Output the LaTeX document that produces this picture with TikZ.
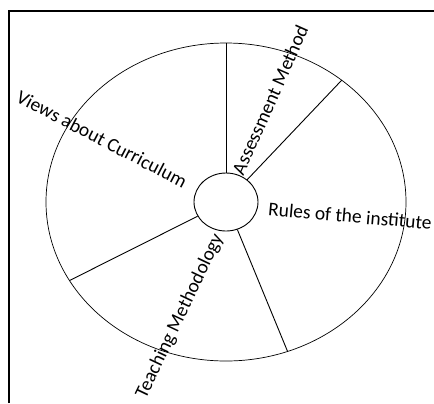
\documentclass[tikz,border=0pt]{standalone}
\usepackage{fontspec}
\setmainfont{Carlito}
\usetikzlibrary{positioning,shapes.geometric}

\begin{document}
\begin{tikzpicture}[
  x=1bp, y=1bp,
  hubbox/.style={draw, ellipse, minimum width=64bp, minimum height=58bp, inner sep=0pt, line width=0.9bp},
  spoke/.style={line width=0.9bp},
  lbl/.style={font=\fontsize{19.5}{21}\selectfont, inner sep=0pt}
]
\useasboundingbox (-226,-201) rectangle (208,202);
% frame
\draw[line width=1.5bp] (-217,-201) -- (-217,191) -- (208,191);

% wheel
\draw[line width=0.7bp] (0,0) ellipse (180 and 159);
\node[hubbox] (hub) at (0,0) {};

\coordinate (rimA) at (90:180 and 159);
\coordinate (rimB) at (50:180 and 159);
\coordinate (rimC) at (209.6:180 and 159);
\coordinate (rimD) at (-70:180 and 159);

\draw[spoke] (hub) -- (rimA);
\draw[spoke] (hub) -- (rimB);
\draw[spoke] (hub) -- (rimC);
\draw[spoke] (hub) -- (rimD);

% labels
\node[lbl, rotate=66] (assess) at (44,102) {Assessment Method};
\node[lbl, rotate=-27.5] (views) at (-124,63) {Views about Curriculum};
\node[lbl, rotate=-5] (rules) at (124,-14) {Rules of the institute};
\node[lbl, rotate=64.5] (teach) at (-46,-114) {Teaching Methodology};
\end{tikzpicture}
\end{document}
